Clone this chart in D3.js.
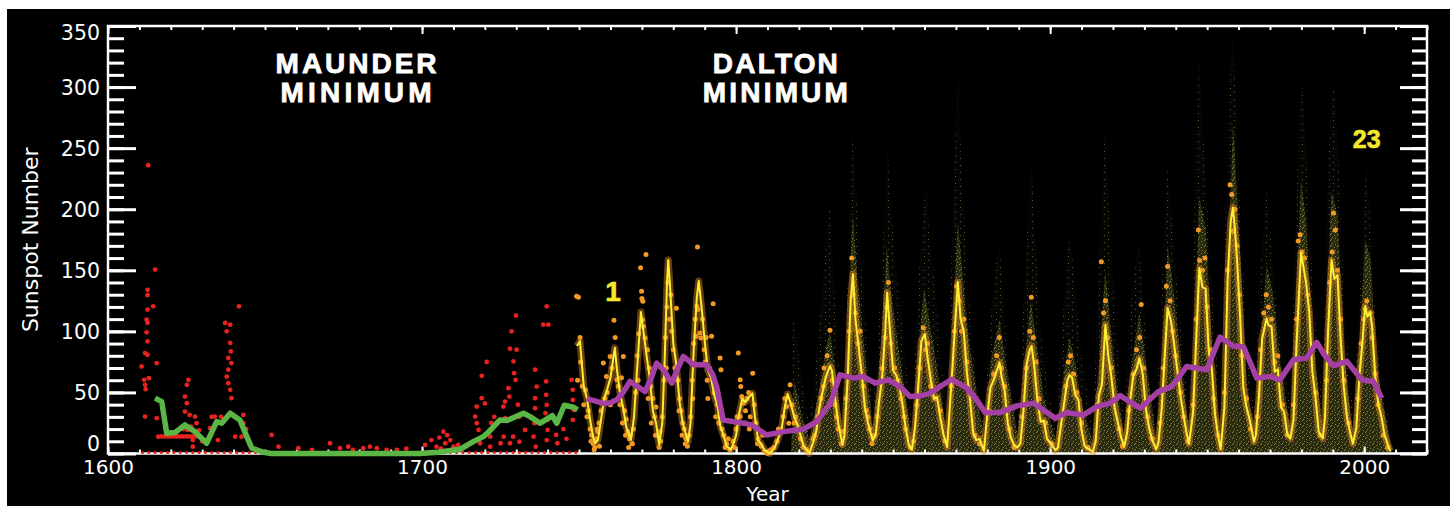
<!DOCTYPE html>
<html>
<head>
<meta charset="utf-8">
<script src="https://cdn.jsdelivr.net/npm/d3@7/dist/d3.min.js"></script>
<style>
    html, body { margin: 0; padding: 0; background: #fff; }
    svg { display: block; }
</style>
</head>
<body>
<div id="chart"></div>
<script>
// values, [year, sunspot number]

// early group counts (red dots)
const redDots = [
    [1612.8, 236], [1615, 150.6], [1612.6, 134], [1612.6, 129.6], [1614.4, 120.5], [1612.6, 117.8], [1612.3, 109.6],
    [1612.6, 107], [1612.3, 99.2], [1612.6, 91.8], [1611.8, 82.2], [1612.6, 80.8], [1615.5, 74], [1610.7, 71.3],
    [1613, 61.7], [1611.5, 60.3], [1611.8, 56.2], [1612, 52.7], [1611.8, 30.2], [1615.5, 28.9], [1616, 13.8],
    [1617, 14], [1618, 14], [1619, 14], [1620, 14], [1621, 14], [1622, 14], [1623, 14], [1624, 14], [1625, 14],
    [1626, 14], [1627, 14], [1628, 14],
    [1625.6, 60.3], [1625.1, 56.2], [1624.5, 46.6], [1625.1, 41.2], [1624.5, 34.3], [1626, 31.6], [1627.7, 30.2],
    [1628.2, 24.8], [1625.3, 19.3], [1627, 11], [1627, 5.6], [1624, 20], [1626.5, 22], [1629, 19], [1630, 10],
    [1634, 30.2], [1632.5, 20.7], [1635, 11], [1633, 30], [1636, 30],
    [1637.3, 106.9], [1638.9, 105.5], [1637.8, 100], [1638.9, 90.5], [1639.1, 83.6], [1638.3, 78.2], [1639.3, 74],
    [1638.3, 68.6], [1637.8, 63], [1638.3, 57.6], [1638.9, 52.1], [1639.3, 45.3], [1641.7, 120.5], [1643.1, 31.6],
    [1643.1, 24.8], [1642.5, 13.8], [1640.5, 13.8], [1644, 20], [1645, 8],
    [1652.1, 15.2], [1654.3, 5.6], [1660.6, 4.3], [1665, 3], [1670.7, 8.4], [1673.9, 4.3], [1676.5, 5.6], [1678, 3],
    [1681.3, 4.3], [1683.4, 5.6], [1685.6, 4.3], [1688.7, 2.9], [1692, 3], [1695, 4],
    [1701, 7], [1703, 11], [1704.6, 5.6], [1706.8, 17.9], [1707.4, 8.4], [1709, 11], [1710, 5.6], [1705.5, 13],
    [1708, 15], [1711.5, 7], [1712.5, 3], [1706, 4],
    [1716.9, 30.2], [1717.4, 38.4], [1717.4, 24.8], [1718, 19.3], [1718.5, 8.4], [1719, 45.3], [1720, 41],
    [1720.6, 74.9], [1719, 63.6], [1721.7, 13.8], [1721.7, 5.6], [1725, 8.4], [1726.4, 42.5], [1725.9, 38.4],
    [1722, 25], [1723, 30],
    [1728.5, 100], [1729.9, 112.9], [1730.1, 85], [1728, 85.8], [1729.1, 75.4], [1729.3, 65.8], [1729.8, 60.3],
    [1727.5, 53.5], [1727.8, 46.6], [1726.5, 28.9], [1726, 13.8], [1728, 8.4], [1729, 13.8], [1731, 9.7],
    [1732.8, 19.3], [1731, 30], [1730.5, 40],
    [1736, 68.6], [1736.5, 54.8], [1736, 45.3], [1736, 37.1], [1735.8, 24.8], [1735.5, 13.8], [1736.2, 5.6],
    [1739.7, 120.5], [1738.6, 105.5], [1740.2, 105.5], [1739.5, 59], [1739.5, 48], [1739.7, 39.8], [1739.3, 33],
    [1740, 27.5], [1740, 19.3], [1739.7, 11],
    [1742.9, 24.8], [1742.7, 15.2], [1743.1, 8.4], [1747.6, 60.3], [1748, 52.1], [1748, 43.9], [1748.3, 35.7],
    [1748, 27.5], [1745, 20], [1746, 12]
]

// red dots sitting on the zero line
const redZeroYears = [
    1611, 1613, 1615, 1617, 1619, 1621, 1623, 1625, 1627, 1629, 1631, 1633, 1635, 1637, 1639, 1641, 1643, 1645,
    1647, 1649, 1651, 1653, 1655, 1657, 1659, 1661, 1663, 1665, 1667, 1669, 1671, 1673, 1675, 1677, 1679, 1681,
    1683, 1685, 1687, 1689, 1691, 1693, 1695, 1697, 1699, 1701, 1703, 1705, 1707, 1709, 1711, 1713, 1715, 1717,
    1719, 1721, 1723, 1725, 1727, 1729, 1731, 1733, 1735, 1737, 1739, 1741, 1743, 1745, 1747, 1749
]

// smoothed group number (green)
const greenLine = [
    [1615, 45.3], [1617.1, 42.5], [1618.7, 16.6], [1621.3, 17.1], [1624.5, 23.4], [1627.7, 17.9], [1631.4, 8.4],
    [1634.6, 26.1], [1636.2, 24.8], [1638.9, 33], [1642, 27.5], [1644.2, 13.8], [1645.8, 4.3], [1649.5, 1],
    [1652, 0], [1699.4, 0], [1705, 1], [1712.1, 3.4], [1716.3, 9.7], [1719.5, 13.8], [1721, 17], [1724.8, 27.5],
    [1727, 27], [1732.3, 33], [1734.4, 30.2], [1737.6, 24.8], [1741.5, 31], [1742.9, 24.8], [1745.3, 39.5],
    [1748.2, 37.9], [1749.5, 35.7]
]

// monthly values (orange dots)
const orangeDots = [
    [1749.2, 128.7], [1749.8, 128], [1750.3, 95], [1749.5, 60], [1750.5, 75], [1751, 55], [1751.5, 40], [1752, 52],
    [1752.5, 30], [1753, 35], [1753.5, 20], [1754, 15], [1754.5, 8], [1755, 5], [1755.5, 12], [1756, 18], [1756.5, 6],
    [1753.8, 10], [1754.8, 3], [1755.8, 20], [1756.3, 25], [1757, 35], [1758.2, 45], [1759, 50], [1760, 40],
    [1757.7, 74], [1758.7, 63], [1759.9, 79.5], [1760.5, 70], [1761.1, 109], [1761.5, 95], [1762, 60.3], [1762.5, 55],
    [1763, 40], [1763.5, 62], [1764.1, 79.5], [1764.5, 35], [1765, 28], [1765.5, 18], [1766, 12], [1766.8, 8],
    [1763.8, 25], [1764.8, 15], [1765.8, 5], [1766.3, 15], [1767, 8], [1768.8, 60], [1772, 45], [1773, 25],
    [1767.3, 20], [1768, 50], [1768.5, 80], [1769, 98], [1769.6, 152], [1769.9, 132.8], [1770, 127], [1770.3, 124.6],
    [1770.2, 109.6], [1770.5, 104], [1771.3, 163], [1771, 94.6], [1771.8, 85], [1772.3, 70], [1772.8, 55],
    [1773.5, 45], [1774, 30], [1774.5, 38], [1775, 15], [1775.5, 5], [1776, 10],
    [1774.3, 15], [1775.8, 18], [1776.5, 30], [1777.8, 70], [1781.8, 35], [1782.8, 15], [1783.8, 8],
    [1777, 60], [1777.5, 95], [1778, 120], [1778.3, 140], [1778.8, 110], [1779.2, 130], [1779.5, 100], [1780, 85],
    [1780.5, 70], [1781, 119], [1781.5, 60], [1782, 45], [1782.5, 35], [1783, 25], [1783.5, 20], [1784, 12],
    [1784.5, 6], [1785, 15], [1786, 60], [1786.5, 90], [1787, 110], [1787.5, 120.5], [1787.7, 169], [1787.9, 117.8],
    [1785.5, 30], [1786.2, 45], [1790.5, 95], [1791, 45], [1793.5, 30], [1794.5, 25], [1796.5, 5], [1797.5, 12],
    [1788.5, 98.7], [1787.3, 96], [1788.8, 94.6], [1789.3, 110], [1789.8, 85], [1790.2, 75], [1790.8, 60],
    [1791.5, 70], [1792.2, 95.9], [1792.7, 122.7], [1793, 50], [1794.9, 78.2], [1795.2, 68.6], [1794, 40],
    [1795.5, 20], [1796, 15], [1797, 8], [1798, 3],
    [1799, 10], [1800, 20], [1800.7, 82.3], [1801.3, 60.3], [1801.5, 54.8], [1801.8, 46.6], [1802.2, 41.2],
    [1801.3, 30.2], [1803, 35], [1803.5, 45], [1804, 50], [1804.5, 30], [1805.3, 65.8], [1805.8, 40], [1806.3, 25],
    [1799.5, 5], [1800.3, 30], [1802.8, 25], [1804.2, 20], [1806.8, 8], [1808.5, 15], [1811, 3], [1813.5, 20],
    [1807, 12], [1808, 6], [1809, 2], [1810, 0], [1812, 5], [1813, 10], [1814, 18], [1815, 30], [1816.1, 38.4],
    [1817.2, 56.2], [1816.8, 24.8], [1817.8, 40], [1818.5, 25], [1819.5, 20], [1820.5, 12], [1821.5, 5],
    [1815.5, 45], [1819, 30], [1822.5, 3], [1825, 15], [1827.8, 55], [1832, 30], [1834, 18],
    [1824.5, 12], [1826, 30], [1827, 45], [1828, 70], [1829, 80], [1829.9, 101], [1830.5, 60], [1831.5, 40],
    [1832.5, 20], [1833.5, 8],
    [1835, 45], [1836, 100], [1836.8, 160], [1837.3, 130], [1838, 115], [1838.8, 90], [1839.5, 100], [1840.5, 55],
    [1841.5, 35], [1842.5, 20], [1843.3, 8], [1842, 30], [1844, 15],
    [1845, 30], [1846.5, 70], [1847.5, 95], [1848, 120], [1848.5, 140], [1849.3, 90], [1850.5, 70], [1851.5, 60],
    [1852.5, 45], [1854, 20], [1855.5, 5], [1853.5, 30], [1856.5, 10],
    [1857.5, 40], [1858.5, 70], [1859.6, 103], [1860.3, 85], [1861, 90], [1862, 55], [1863.5, 45], [1865, 35],
    [1866.5, 10],
    [1868.5, 55], [1869.5, 100], [1870.2, 137], [1871, 125], [1871.8, 100], [1872.5, 110], [1873.5, 75],
    [1874.5, 50], [1876, 15], [1877.5, 8],
    [1880.5, 35], [1882, 65], [1883, 80], [1883.8, 95], [1884.5, 70], [1885.5, 55], [1887, 20], [1888.5, 5],
    [1891, 30], [1892.5, 70], [1893.5, 100], [1894, 128], [1894.6, 95], [1895.5, 75], [1896.5, 45], [1898.5, 25],
    [1900.5, 8],
    [1903.5, 30], [1905, 55], [1905.8, 75], [1906.5, 80], [1907.5, 65], [1908.5, 50], [1910, 25], [1912, 5],
    [1915, 40], [1916.3, 157], [1917, 115], [1917.6, 125], [1918.3, 95], [1919.5, 70], [1920.5, 45], [1922, 20],
    [1923, 6],
    [1925, 35], [1926.5, 65], [1927.5, 85], [1928.5, 95], [1929, 122], [1929.8, 70], [1931, 30], [1932.5, 12],
    [1935, 25], [1936, 70], [1937, 137], [1937.4, 153], [1938.2, 125], [1939, 100], [1940, 80], [1941.5, 50],
    [1942.5, 30], [1943.8, 10],
    [1945.5, 40], [1946.5, 110], [1947.2, 183], [1947.6, 158], [1948.5, 150], [1949.3, 160], [1950, 120],
    [1951, 85], [1952, 45], [1953.5, 15],
    [1955.5, 50], [1956.5, 150], [1957.3, 220], [1957.8, 212], [1958.3, 182], [1958.8, 200], [1959.5, 170],
    [1960.3, 130], [1961, 80], [1962.5, 45], [1963.8, 20],
    [1966, 30], [1967, 85], [1968, 115], [1968.8, 130], [1969.5, 120], [1970.5, 110], [1971.5, 75], [1972.5, 80],
    [1974, 40], [1975.5, 15],
    [1977.5, 40], [1978.5, 110], [1979, 174], [1979.6, 179], [1980.2, 165], [1981, 160], [1982, 130], [1983, 85],
    [1984.5, 50], [1986, 15],
    [1988, 60], [1989, 140], [1989.8, 165], [1990.2, 197], [1990.8, 183], [1991.5, 150], [1992.5, 110],
    [1993.5, 60], [1995, 25],
    [1998, 45], [1999, 90], [1999.8, 110], [2000.3, 118], [2000.8, 125], [2001.8, 115], [2002.5, 95], [2003.5, 65],
    [2004.5, 40], [2006, 15], [2007.5, 5]
]

// smoothed monthly number (yellow)
const yellowLine = [
    [1749.3, 88], [1750.3, 92], [1751, 70], [1751.5, 55], [1752.5, 45], [1753.5, 28], [1754.5, 13], [1755.2, 8.4],
    [1756, 11], [1757, 28], [1758, 45], [1759, 53], [1760, 62], [1761, 80], [1761.4, 86.5], [1762, 70], [1763, 50],
    [1764, 38], [1765, 22], [1766.5, 11.2],
    [1767.5, 30], [1768.5, 70], [1769.7, 115.8], [1770.5, 100], [1771.5, 80], [1772.5, 62], [1773.5, 35],
    [1774.5, 25], [1775.5, 7.2],
    [1776.5, 25], [1777.3, 80], [1778, 140], [1778.4, 158.5], [1779, 135], [1780, 90], [1781, 72], [1782, 42],
    [1783, 25], [1784.7, 9.5],
    [1785.5, 25], [1786.5, 85], [1787.5, 128], [1788.1, 141.2], [1789, 120], [1790, 92], [1791, 68], [1792, 62],
    [1793, 48], [1794, 40], [1795, 22], [1796, 15], [1797, 6], [1798.3, 3.2],
    [1799, 7], [1800, 15], [1801, 33], [1802, 45], [1803, 42], [1804, 46], [1805.2, 49.2], [1806, 30], [1807, 11],
    [1808, 8], [1809, 3], [1810.6, 0],
    [1811.5, 2], [1812.5, 6], [1813.5, 13], [1814.5, 20], [1815.5, 38], [1816.4, 48.7], [1817.5, 40], [1818.5, 30],
    [1819.5, 24], [1820.5, 15], [1821.5, 6], [1822.5, 3], [1823.3, 0.1],
    [1824.5, 9], [1825.5, 18], [1826.5, 37], [1827.5, 50], [1828.5, 62], [1829.9, 71.7], [1830.5, 68],
    [1831.5, 46], [1832.5, 25], [1833.9, 7.3],
    [1834.5, 15], [1835.5, 60], [1836.5, 125], [1837.2, 146.9], [1838, 110], [1839, 88], [1840, 65], [1841, 38],
    [1842, 25], [1843.5, 10.6],
    [1844.5, 16], [1845.5, 42], [1846.5, 62], [1847.5, 100], [1848.1, 131.9], [1849, 100], [1850, 68], [1851, 64],
    [1852, 55], [1853, 40], [1854, 21], [1855, 7], [1856, 3.2],
    [1857, 22], [1858, 55], [1859, 92], [1860.1, 97.9], [1861, 78], [1862, 60], [1863, 45], [1864, 46], [1865, 30],
    [1866, 16], [1867.2, 5.2],
    [1868, 36], [1869, 75], [1870.6, 140.5], [1871.5, 110], [1872.5, 100], [1873.5, 66], [1874.5, 44],
    [1875.5, 17], [1876.5, 11], [1877.5, 12], [1878.9, 2.2],
    [1880, 32], [1881, 54], [1882, 60], [1883.9, 74.6], [1884.5, 63], [1885.5, 52], [1886.5, 25], [1887.5, 13],
    [1888.5, 7], [1889.6, 5],
    [1890.5, 8], [1891.5, 35], [1892.5, 73], [1893.5, 85], [1894.1, 87.9], [1895, 70], [1896, 42], [1897, 26],
    [1898, 27], [1899, 12], [1900, 9], [1901.7, 2.7],
    [1902.5, 5], [1903.5, 24], [1904.5, 42], [1905.5, 60], [1906.2, 64.2], [1907, 62], [1908, 48], [1909, 44],
    [1910, 19], [1911, 6], [1912, 4], [1913.6, 1.5],
    [1914.5, 10], [1915.5, 47], [1916.5, 57], [1917.6, 105.4], [1918.5, 80], [1919.5, 63], [1920.5, 38],
    [1921.5, 26], [1922.5, 14], [1923.6, 5.6],
    [1924.5, 17], [1925.5, 44], [1926.5, 64], [1927.5, 69], [1928.4, 78.1], [1929.5, 65], [1930.5, 36],
    [1931.5, 21], [1932.5, 11], [1933.8, 3.5],
    [1934.5, 9], [1935.5, 36], [1936.5, 80], [1937.4, 119.2], [1938.5, 108], [1939.5, 89], [1940.5, 68],
    [1941.5, 47], [1942.5, 31], [1943.5, 16], [1944.2, 7.7],
    [1945.5, 33], [1946.5, 93], [1947.5, 151.8], [1948.5, 136], [1949.5, 135], [1950.5, 84], [1951.5, 69],
    [1952.5, 32], [1953.5, 14], [1954.3, 3.4],
    [1955.5, 38], [1956.5, 142], [1957.5, 190], [1958.2, 201.3], [1958.8, 185], [1959.5, 159], [1960.5, 112],
    [1961.5, 54], [1962.5, 38], [1963.5, 28], [1964.9, 9.6],
    [1965.5, 15], [1966.5, 47], [1967.5, 94], [1968.9, 110.6], [1969.5, 105], [1970.5, 104], [1971.5, 67],
    [1972.5, 69], [1973.5, 38], [1974.5, 34], [1975.5, 16], [1976.5, 12.2],
    [1977.5, 28], [1978.5, 92], [1979.9, 164.5], [1980.5, 155], [1981.5, 140], [1982.5, 116], [1983.5, 67],
    [1984.5, 46], [1985.5, 18], [1986.8, 12.3],
    [1987.5, 29], [1988.5, 100], [1989.6, 158.5], [1990.5, 143], [1991.5, 146], [1992.5, 94], [1993.5, 55],
    [1994.5, 30], [1995.5, 17.5], [1996.4, 8],
    [1997.5, 21], [1998.5, 64], [1999.5, 93], [2000.3, 120.8], [2001, 112], [2001.9, 115.5], [2002.5, 104],
    [2003.5, 64], [2004.5, 40], [2005.5, 30], [2006.5, 15], [2007.5, 7.5], [2008.3, 2]
]

// cycle-averaged number (purple)
const purpleLine = [
    [1752.4, 45], [1755, 43], [1757.7, 41], [1760, 41.5], [1762, 44], [1764, 50], [1766.2, 59], [1768.5, 55],
    [1771, 50.7], [1773, 62], [1774.7, 74], [1777, 68], [1779.5, 57.6], [1781.5, 70], [1783.2, 79.5],
    [1786.4, 72.7], [1790.6, 72.7], [1792.5, 65], [1793.8, 54.8], [1795.9, 27.5], [1801.3, 25.3], [1805, 23.4],
    [1807.5, 19], [1809.7, 15.2], [1815, 17.9], [1821.4, 19.9], [1825.7, 26.1], [1830, 41], [1833.1, 64.4],
    [1837.4, 61.7], [1840.5, 63], [1844.3, 57.6], [1848.5, 60.3], [1852.2, 54.8], [1855.4, 46.6], [1858.5, 47],
    [1861.8, 49.4], [1865, 54.8], [1868.7, 60.8], [1873.4, 53.5], [1876.6, 43.9], [1879.3, 33.5], [1884.1, 33.5],
    [1889.4, 39], [1894.7, 41.2], [1897.9, 35.7], [1901.6, 28.9], [1905.3, 33.5], [1910.6, 31.6], [1914.9, 38.4],
    [1919.1, 41.2], [1922.3, 47.5], [1925.5, 42], [1928.7, 37.1], [1934.5, 50.7], [1938.7, 54.8], [1943.5, 71.3],
    [1949.9, 68.6], [1954.1, 95.4], [1957.9, 88.3], [1961.6, 87.2], [1965.8, 61.7], [1970, 63], [1973.2, 60.3],
    [1977.5, 76.8], [1981.7, 78.2], [1984.9, 91], [1987.5, 80], [1990.2, 71.8], [1994.5, 75.4], [1999.2, 60.3],
    [2002.9, 59], [2005.6, 45.3]
]

// daily values: outer edge of the sparse cloud and of the dense core
const dailyTop = [
    [1817.5, 0], [1818, 115], [1820, 80], [1822, 40], [1823.3, 25],
    [1826, 90], [1828.5, 170], [1829.8, 205], [1831, 150], [1832.5, 80], [1833.9, 30],
    [1835.5, 140], [1836.6, 230], [1837.2, 262], [1838, 220], [1840, 150], [1842, 80], [1843.5, 35],
    [1845.5, 110], [1847.5, 210], [1848.2, 255], [1849, 210], [1851, 150], [1853.5, 90], [1856, 25],
    [1858, 140], [1859.7, 200], [1860.5, 222], [1861.5, 180], [1864, 120], [1866, 60], [1867.2, 30],
    [1868.8, 180], [1870.2, 290], [1870.6, 319], [1871.5, 250], [1873.5, 150], [1876, 70], [1878.9, 25],
    [1881, 110], [1883, 160], [1883.9, 170], [1885, 130], [1887, 60], [1889.6, 25],
    [1891.5, 120], [1893.3, 210], [1894, 241], [1895, 190], [1897, 100], [1899.5, 50], [1901.7, 25],
    [1904, 110], [1905.5, 165], [1906.2, 183], [1907.5, 150], [1909.5, 90], [1913.6, 20],
    [1915.5, 150], [1917, 240], [1917.6, 271], [1918.5, 210], [1921, 100], [1923.6, 30],
    [1925.5, 120], [1927.5, 160], [1928.3, 175], [1929.5, 130], [1931.5, 60], [1933.8, 25],
    [1935.5, 140], [1936.8, 210], [1937.4, 235], [1938.5, 200], [1941, 120], [1944.2, 35],
    [1945.5, 160], [1946.8, 280], [1947.5, 326], [1948.5, 270], [1950.5, 180], [1954.3, 30],
    [1955.6, 170], [1957.2, 300], [1958, 345], [1959, 300], [1960.5, 200], [1962.5, 100], [1964.9, 35],
    [1966.5, 130], [1968.2, 200], [1968.9, 216], [1970.5, 170], [1972.5, 110], [1976.5, 40],
    [1978, 180], [1979.5, 280], [1980.2, 304], [1981.5, 250], [1983.5, 140], [1986.8, 40],
    [1988, 200], [1989.5, 290], [1990.5, 301], [1991.5, 260], [1993.5, 130], [1996.4, 35],
    [1998.5, 130], [2000, 210], [2000.6, 235], [2001.8, 200], [2003.5, 110], [2006, 50], [2008.5, 20], [2009, 0]
]

const dailyCore = [
    [1817.5, 0], [1818.5, 60], [1821, 30], [1823.3, 12],
    [1826, 45], [1828.5, 85], [1829.9, 100], [1831.5, 70], [1833.9, 18],
    [1835.5, 95], [1836.8, 180], [1837.2, 195], [1838.5, 150], [1840.5, 95], [1843.5, 22],
    [1846, 85], [1848, 170], [1849, 140], [1851.5, 90], [1855, 30], [1856, 12],
    [1858, 85], [1859.8, 135], [1861.5, 110], [1864, 70], [1867.2, 15],
    [1868.8, 95], [1870.6, 190], [1872, 150], [1874, 95], [1878.9, 12],
    [1881, 75], [1883.9, 110], [1885.5, 80], [1889.6, 15],
    [1891.5, 65], [1893.8, 125], [1895.5, 95], [1898, 45], [1901.7, 12],
    [1904, 60], [1906.2, 95], [1908, 75], [1910, 40], [1913.6, 10],
    [1915.5, 75], [1917.6, 150], [1919, 110], [1921.5, 50], [1923.6, 15],
    [1925.5, 65], [1928.4, 115], [1930, 85], [1933.8, 12],
    [1935.5, 60], [1937.4, 170], [1939, 140], [1942, 70], [1944.2, 18],
    [1945.5, 60], [1947.5, 210], [1949.5, 185], [1952, 65], [1954.3, 12],
    [1955.5, 65], [1958.2, 270], [1960, 190], [1962.5, 60], [1964.9, 18],
    [1966.5, 70], [1968.9, 155], [1971, 130], [1973.5, 70], [1976.5, 20],
    [1978, 110], [1979.9, 225], [1981.5, 190], [1983.5, 100], [1986.8, 20],
    [1988, 120], [1989.6, 215], [1991.5, 195], [1993.5, 85], [1996.4, 15],
    [1998.5, 90], [2000.3, 175], [2002, 160], [2004, 70], [2008.3, 10], [2009, 0]
]

// tick values and annotations
const yLabels = [0, 50, 100, 150, 200, 250, 300, 350]
const yMinor = d3.range(0, 351, 10)
const xLabels = [1600, 1700, 1800, 1900, 2000]
const xMinor = d3.range(1600, 2021, 10)
const minima = [
    {lines: ['MAUNDER', 'MINIMUM'], year: 1679, widths: [161, 151]},
    {lines: ['DALTON', 'MINIMUM'], year: 1812.5, widths: [125, 145]}
]
const cycleLabels = [{text: '1', year: 1760.8, value: 125}, {text: '23', year: 2000.8, value: 250}]

const W = 1450, H = 506
const box = {left: 108, right: 1427, top: 26, bottom: 453.5}

const x = d3.scaleLinear().domain([1600, 2020]).range([box.left, box.right])
const y = d3.scaleLinear().domain([0, 350]).range([box.bottom, box.top])

const svg = d3.select('#chart').append('svg')
    .attr('width', W)
    .attr('height', H)

svg.append('rect').attr('width', W).attr('height', H).attr('fill', '#fff')
svg.append('rect').attr('x', 7).attr('y', 9).attr('width', W - 7).attr('height', H - 9).attr('fill', '#000')

// speckle textures for the daily cloud
const defs = svg.append('defs')
function speckle(id, w, h, color, bg, pts) {
    let p = defs.append('pattern')
        .attr('id', id)
        .attr('patternUnits', 'userSpaceOnUse')
        .attr('width', w)
        .attr('height', h)
    if (bg) p.append('rect').attr('width', w).attr('height', h).attr('fill', bg)
    pts.forEach(d => {
        p.append('rect').attr('x', d[0]).attr('y', d[1]).attr('width', 1).attr('height', 1).attr('fill', color)
    })
}
speckle('sparse', 9, 7, '#5c5c26', '#050503', [[1, 1], [6, 4]])
speckle('dense', 7, 6, '#85853a', '#2a2a10', [[0, 0], [4, 1], [2, 3], [5, 4], [1, 5]])

const area = d3.area()
    .x(d => x(d[0]))
    .y0(y(0))
    .y1(d => y(d[1]))

svg.append('path').datum(dailyTop).attr('d', area).attr('fill', 'url(#sparse)')
svg.append('path').datum(dailyCore).attr('d', area).attr('fill', 'url(#dense)')

const line = d3.line()
    .x(d => x(d[0]))
    .y(d => y(d[1]))

// frame and ticks
const frame = svg.append('g').attr('class', 'frame')

function tickAxis(axis, tx, ty, values, size, width) {
    let g = frame.append('g')
        .attr('transform', `translate(${tx},${ty})`)
        .call(axis.tickValues(values).tickSize(size).tickFormat(''))
    g.select('.domain').remove()
    g.selectAll('line').attr('stroke', '#fff').attr('stroke-width', width)
    return g
}

tickAxis(d3.axisRight(y), box.left, 0, yMinor, 16, 3)
tickAxis(d3.axisRight(y), box.left, 0, yLabels, 28, 3)
tickAxis(d3.axisLeft(y), box.right, 0, yMinor, 15, 3)
tickAxis(d3.axisLeft(y), box.right, 0, yLabels, 27, 3)
tickAxis(d3.axisBottom(x), 0, box.top, xMinor, 4, 2)
tickAxis(d3.axisBottom(x), 0, box.top, xLabels, 8, 2)
tickAxis(d3.axisTop(x), 0, box.bottom, xMinor, 4, 2)
tickAxis(d3.axisTop(x), 0, box.bottom, xLabels, 7, 2)

frame.append('rect')
    .attr('x', box.left)
    .attr('y', box.top)
    .attr('width', box.right - box.left)
    .attr('height', box.bottom - box.top)
    .attr('fill', 'none')
    .attr('stroke', '#fff')
    .attr('stroke-width', 2.5)

// tick labels
const font = '"DejaVu Sans", sans-serif'
const yl = svg.append('g')
    .attr('transform', `translate(${box.left},0)`)
    .call(d3.axisLeft(y).tickValues(yLabels).tickSize(0).tickPadding(8))
yl.select('.domain').remove()
yl.selectAll('text')
    .attr('fill', '#fff')
    .style('font-family', font)
    .style('font-size', '20.5px')
    .attr('dy', d => d === 350 ? '0.65em' : d === 0 ? '-0.14em' : '0.34em')

const xl = svg.append('g')
    .attr('transform', `translate(0,${box.bottom})`)
    .call(d3.axisBottom(x).tickValues(xLabels).tickFormat(d3.format('d')).tickSize(0).tickPadding(6.5))
xl.select('.domain').remove()
xl.selectAll('text')
    .attr('fill', '#fff')
    .style('font-family', font)
    .style('font-size', '20px')

svg.append('text')
    .attr('transform', `translate(38,${(box.top + box.bottom) / 2}) rotate(-90)`)
    .attr('text-anchor', 'middle')
    .attr('fill', '#fff')
    .style('font-family', font)
    .style('font-size', '22px')
    .text('Sunspot Number')

svg.append('text')
    .attr('x', (box.left + box.right) / 2)
    .attr('y', 501)
    .attr('text-anchor', 'middle')
    .attr('fill', '#fff')
    .style('font-family', font)
    .style('font-size', '20px')
    .text('Year')

// data marks
svg.append('g').selectAll('circle')
    .data(orangeDots)
    .enter().append('circle')
    .attr('cx', d => x(d[0]))
    .attr('cy', d => y(d[1]))
    .attr('r', 2.5)
    .attr('fill', '#f29a24')

// orange halo standing for the monthly scatter along the smoothed curve
svg.append('path').datum(yellowLine)
    .attr('d', line)
    .attr('fill', 'none')
    .attr('stroke', '#e88a1c')
    .attr('stroke-opacity', 0.45)
    .attr('stroke-width', 7)
    .attr('stroke-linejoin', 'round')

svg.append('g').selectAll('circle')
    .data(redZeroYears)
    .enter().append('circle')
    .attr('cx', d => x(d))
    .attr('cy', y(0) - 1)
    .attr('r', 1.6)
    .attr('fill', '#e3231f')

svg.append('g').selectAll('circle')
    .data(redDots)
    .enter().append('circle')
    .attr('cx', d => x(d[0]))
    .attr('cy', d => y(d[1]))
    .attr('r', 2.4)
    .attr('fill', '#e8221e')

svg.append('path').datum(greenLine)
    .attr('d', line)
    .attr('fill', 'none')
    .attr('stroke', '#5cb646')
    .attr('stroke-width', 5.5)
    .attr('stroke-linejoin', 'round')

svg.append('path').datum(yellowLine)
    .attr('d', line)
    .attr('fill', 'none')
    .attr('stroke', '#f7f033')
    .attr('stroke-width', 2)
    .attr('stroke-linejoin', 'round')

svg.append('path').datum(purpleLine)
    .attr('d', line)
    .attr('fill', 'none')
    .attr('stroke', '#a43fa3')
    .attr('stroke-width', 5.5)
    .attr('stroke-linejoin', 'round')

// annotations
const bold = '"Liberation Sans", Arial, sans-serif'
minima.forEach(m => {
    m.lines.forEach((t, i) => {
        svg.append('text')
            .attr('x', x(m.year))
            .attr('y', 73 + i * 28.5)
            .attr('text-anchor', 'middle')
            .attr('textLength', m.widths[i])
            .attr('fill', '#fff')
            .attr('stroke', '#fff')
            .attr('stroke-width', 0.8)
            .style('font-family', bold)
            .style('font-weight', 'bold')
            .style('font-size', '28px')
            .text(t)
    })
})

cycleLabels.forEach(c => {
    svg.append('text')
        .attr('x', x(c.year))
        .attr('y', y(c.value))
        .attr('text-anchor', 'middle')
        .attr('fill', '#f2ea2a')
        .attr('stroke', '#f2ea2a')
        .attr('stroke-width', 0.6)
        .style('font-family', bold)
        .style('font-weight', 'bold')
        .style('font-size', c.text === '1' ? '28px' : '25px')
        .text(c.text)
})
</script>
</body>
</html>
